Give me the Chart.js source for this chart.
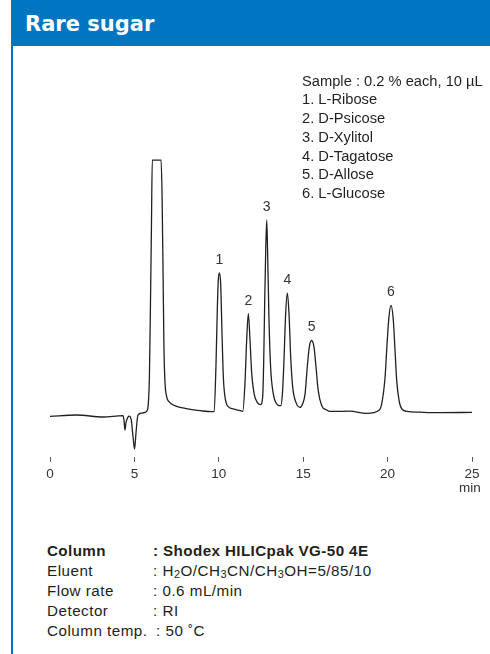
<!DOCTYPE html>
<html lang="en">
<head>
<meta charset="utf-8">
<title>Rare sugar</title>
<script src="https://cdn.jsdelivr.net/npm/chart.js@4.4.1/dist/chart.umd.min.js"></script>
<style>
  html, body { margin: 0; padding: 0; background: #fff; }
  body {
    width: 490px; height: 654px; position: relative; overflow: hidden;
    font-family: "Liberation Sans", Arial, Helvetica, sans-serif; color: #231f20;
  }
  .header { position: absolute; left: 11px; top: 0; width: 479px; height: 46px; background: #0075c1; }
  .header span {
    position: absolute; left: 14px; top: 14px; color: #fff;
    font: bold 21px/21px "DejaVu Sans", sans-serif;
  }
  .bord { position: absolute; left: 11px; top: 46px; width: 2px; height: 608px; background: #0075c1; }
  #chart { position: absolute; left: 0; top: 0; }
  .sample { position: absolute; left: 302px; top: 71.5px; font-size: 14.7px; line-height: 18.8px; white-space: nowrap; }
  .cond {
    position: absolute; left: 47px; top: 540.7px; font-size: 15.2px; line-height: 20px;
    letter-spacing: 0.5px; white-space: nowrap;
  }
  .cond .lab { display: inline-block; width: 106px; }
  .cond sub { font-size: 0.72em; line-height: 0; vertical-align: -0.22em; }
</style>
</head>
<body>
<div class="header"><span>Rare sugar</span></div>
<div class="bord"></div>
<canvas id="chart" width="490" height="500"></canvas>

<div class="sample">
  Sample : 0.2 % each, 10 µL<br>
  1. L-Ribose<br>
  2. D-Psicose<br>
  3. D-Xylitol<br>
  4. D-Tagatose<br>
  5. D-Allose<br>
  6. L-Glucose
</div>

<div class="cond">
  <div style="font-weight: bold; letter-spacing: 0.4px"><span class="lab">Column</span>: Shodex HILICpak VG-50 4E</div>
  <div><span class="lab">Eluent</span>: H<sub>2</sub>O/CH<sub>3</sub>CN/CH<sub>3</sub>OH=5/85/10</div>
  <div><span class="lab">Flow rate</span>: 0.6 mL/min</div>
  <div><span class="lab">Detector</span>: RI</div>
  <div><span class="lab" style="width: 109px">Column temp.</span>: 50 ˚C</div>
</div>

<script>
const timeMin = [
  0.00, 1.58, 3.14, 4.32, 4.38, 4.44, 4.50, 4.62, 4.70, 4.80, 4.92, 5.01, 5.10, 5.21,
  5.39, 5.63, 5.75, 5.82, 5.89, 5.95, 6.01, 6.06, 6.58, 6.64, 6.70, 6.75, 6.81, 6.91,
  7.05, 7.21, 7.46, 7.88, 8.41, 8.89, 9.60, 9.72, 9.83, 9.91, 9.97, 10.03, 10.11, 10.19,
  10.27, 10.37, 10.56, 10.86, 11.26, 11.42, 11.55, 11.65, 11.75, 11.85, 11.95, 12.09,
  12.28, 12.48, 12.60, 12.66, 12.72, 12.78, 12.84, 12.89, 12.97, 13.07, 13.23, 13.47,
  13.67, 13.78, 13.86, 13.96, 14.06, 14.16, 14.26, 14.38, 14.57, 14.81, 14.97, 15.11,
  15.24, 15.36, 15.50, 15.64, 15.76, 15.89, 16.10, 16.39, 16.59, 17.77, 18.76, 19.51,
  19.65, 19.85, 19.98, 20.08, 20.20, 20.34, 20.44, 20.54, 20.68, 20.84, 21.13, 21.92,
  23.10, 25.00
];
const signal = [
  40.3, 41.7, 39.7, 41.0, 37.0, 26.7, 34.0, 39.5, 40.5, 38.0, 20.0, 7.7, 25.0, 41.7,
  43.5, 44.3, 46.0, 52.0, 80.0, 150, 230, 296, 296, 260, 180, 110, 75, 60,
  55, 52.7, 50.5, 48.7, 47.0, 46.0, 45.0, 45.3, 89.3, 146, 176, 183.3, 172.7, 123,
  79.3, 59.3, 50.0, 47.7, 46.0, 45.3, 73, 116, 142.7, 116, 83, 63,
  54.3, 52, 60, 95, 156, 206, 236, 206, 139.3, 89.3, 62.7, 52,
  51, 66, 96, 142.7, 163.3, 142.7, 99.3, 69.3, 54.3, 49.3, 53, 62.7,
  89.3, 109.3, 116, 109.3, 89.3, 66, 51, 46.7, 45.3, 45.5, 43.3, 46.7,
  52.7, 79.3, 116, 139.3, 151, 136, 106, 76, 56, 47.7, 45.3, 44.5,
  44.0, 44.3
];

// Numéros des pics
const peakLabels = ['1', '2', '3', '4', '5', '6'];
const peakTimes = [10.03, 11.75, 12.84, 14.06, 15.50, 20.20];

// Graduations de l'axe des temps
const xTicks = [0, 5, 10, 15, 20, 25];

const fontFamily = '"Liberation Sans", Arial, Helvetica, sans-serif';

// Plugin pour écrire les numéros au-dessus des pics et l'unité "min"
const peakLabelPlugin = {
  id: 'peakLabels',
  afterDraw(chart) {
    const ctx = chart.ctx;
    const xs = chart.scales.x;
    const ys = chart.scales.y;
    ctx.save();
    ctx.fillStyle = '#333';
    ctx.textAlign = 'center';
    ctx.textBaseline = 'alphabetic';
    ctx.font = '14px ' + fontFamily;
    peakLabels.forEach((label, i) => {
      // point le plus proche du sommet
      let j = 0;
      timeMin.forEach((t, k) => {
        if (Math.abs(t - peakTimes[i]) < Math.abs(timeMin[j] - peakTimes[i])) j = k;
      });
      const x = xs.getPixelForValue(peakTimes[i]);
      const y = ys.getPixelForValue(signal[j]) - 9;
      ctx.fillText(label, x, y);
    });
    ctx.font = '13.5px ' + fontFamily;
    ctx.fillText('min', xs.getPixelForValue(25) - 2, xs.top + 35);
    ctx.restore();
  }
};

const ctx = document.getElementById('chart').getContext('2d');
new Chart(ctx, {
  type: 'line',
  data: {
    datasets: [{
      data: timeMin.map((t, i) => ({ x: t, y: signal[i] })),
      borderColor: '#231f20',
      borderWidth: 1.3,
      pointRadius: 0,
      fill: false,
      cubicInterpolationMode: 'monotone'
    }]
  },
  options: {
    responsive: false,
    animation: false,
    layout: { padding: { left: 50, right: 18, top: 150, bottom: 14 } },
    plugins: {
      legend: { display: false },
      tooltip: { enabled: false }
    },
    scales: {
      x: {
        type: 'linear',
        min: 0,
        max: 25,
        afterBuildTicks: scale => { scale.ticks = xTicks.map(v => ({ value: v })); },
        border: { display: false },
        grid: { drawOnChartArea: false, drawTicks: true, tickLength: 5, color: '#555', lineWidth: 1 },
        ticks: {
          color: '#333',
          padding: 4,
          maxRotation: 0,
          autoSkip: false,
          font: { family: fontFamily, size: 13.5 }
        }
      },
      y: { display: false, min: 0, max: 306 }
    }
  },
  plugins: [peakLabelPlugin]
});
</script>
</body>
</html>
